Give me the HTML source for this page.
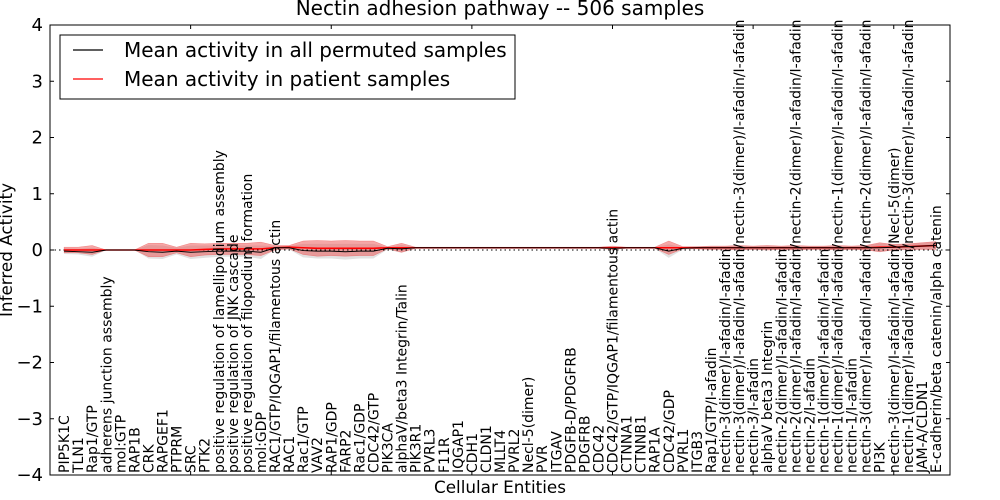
<!DOCTYPE html>
<html><head><meta charset="utf-8"><style>
html,body{margin:0;padding:0;background:#fff;}
svg{display:block;font-family:"DejaVu Sans","Liberation Sans",sans-serif;}
</style></head><body>
<svg id="chart" width="1000" height="500" viewBox="0 0 1000 500" xmlns="http://www.w3.org/2000/svg">
<rect x="0" y="0" width="1000" height="500" fill="#fff"/>
<g id="bands"></g>
<g id="lines"></g>
<g id="labels"></g>
<rect x="50" y="25" width="900" height="450" fill="none" stroke="#000" stroke-width="1"/>
<g id="ticks"></g>
<text x="500" y="15" text-anchor="middle" font-size="20">Nectin adhesion pathway -- 506 samples</text>
<text x="500" y="493" text-anchor="middle" font-size="16.8">Cellular Entities</text>
<text transform="translate(12,250) rotate(-90)" text-anchor="middle" font-size="16.8">Inferred Activity</text>
<g>
<rect x="60" y="35" width="455" height="64" fill="#fff" stroke="#000" stroke-width="1"/>
<line x1="73" y1="50" x2="103" y2="50" stroke="#000" stroke-width="1.2"/>
<text x="124" y="57" font-size="20">Mean activity in all permuted samples</text>
<line x1="73" y1="79" x2="103" y2="79" stroke="#f00" stroke-width="1.2"/>
<text x="124" y="86" font-size="20">Mean activity in patient samples</text>
</g>
</svg>
<script>
const categories = ["PIP5K1C","TLN1","Rap1/GTP","adherens junction assembly","mol:GTP","RAP1B","CRK","RAPGEF1","PTPRM","SRC","PTK2","positive regulation of lamellipodium assembly","positive regulation of JNK cascade","positive regulation of filopodium formation","mol:GDP","RAC1/GTP/IQGAP1/filamentous actin","RAC1","Rac1/GTP","VAV2","RAP1/GDP","FARP2","Rac1/GDP","CDC42/GTP","PIK3CA","alphaV/beta3 Integrin/Talin","PIK3R1","PVRL3","F11R","IQGAP1","CDH1","CLDN1","MLLT4","PVRL2","Necl-5(dimer)","PVR","ITGAV","PDGFB-D/PDGFRB","PDGFRB","CDC42","CDC42/GTP/IQGAP1/filamentous actin","CTNNA1","CTNNB1","RAP1A","CDC42/GDP","PVRL1","ITGB3","Rap1/GTP/I-afadin","nectin-3(dimer)/I-afadin/I-afadin","nectin-3(dimer)/I-afadin/I-afadin/nectin-3(dimer)/I-afadin/I-afadin","nectin-3/I-afadin","alphaV beta3 Integrin","nectin-2(dimer)/I-afadin/I-afadin","nectin-2(dimer)/I-afadin/I-afadin/nectin-2(dimer)/I-afadin/I-afadin","nectin-2/I-afadin","nectin-1(dimer)/I-afadin/I-afadin","nectin-1(dimer)/I-afadin/I-afadin/nectin-1(dimer)/I-afadin/I-afadin","nectin-1/I-afadin","nectin-3(dimer)/I-afadin/I-afadin/nectin-2(dimer)/I-afadin/I-afadin","PI3K","nectin-3(dimer)/I-afadin/I-afadin/Necl-5(dimer)","nectin-1(dimer)/I-afadin/I-afadin/nectin-3(dimer)/I-afadin/I-afadin","JAM-A/CLDN1","E-cadherin/beta catenin/alpha catenin"];
const patientMean = [0,0,0,0,0,0,0,0,0,0,0.01,0.02,0.02,0.02,0.02,0.04,0.05,0.04,0.03,0.03,0.03,0.03,0.03,0.04,0.04,0.04,0.04,0.04,0.04,0.04,0.04,0.04,0.04,0.04,0.04,0.04,0.04,0.04,0.04,0.04,0.04,0.04,0.04,0.04,0.04,0.04,0.04,0.04,0.04,0.04,0.04,0.04,0.04,0.04,0.04,0.04,0.04,0.04,0.05,0.05,0.06,0.07,0.08];
const patientSd = [0.05,0.05,0.08,0,0,0,0.12,0.12,0.05,0.12,0.1,0.1,0.1,0.1,0.12,0.04,0.03,0.12,0.14,0.13,0.14,0.13,0.13,0.02,0.08,0.01,0.01,0.01,0.01,0.01,0.01,0.01,0.01,0.01,0.01,0.01,0.01,0.01,0.01,0.03,0.01,0.01,0.01,0.12,0.02,0.02,0.03,0.03,0.04,0.03,0.04,0.03,0.04,0.03,0.03,0.04,0.03,0.04,0.08,0.05,0.05,0.06,0.07];
const permMean = [-0.02,-0.03,-0.04,0,0,0,-0.03,-0.04,-0.02,-0.04,-0.03,-0.02,-0.02,-0.02,-0.04,0.04,0.04,-0.01,-0.02,-0.02,-0.03,-0.02,-0.02,0.03,0.02,0.04,0.04,0.04,0.04,0.04,0.04,0.04,0.04,0.04,0.04,0.04,0.04,0.04,0.04,0.03,0.04,0.04,0.04,-0.02,0.03,0.04,0.04,0.04,0.04,0.04,0.04,0.04,0.04,0.04,0.04,0.04,0.04,0.04,0.04,0.05,0.06,0.07,0.08];
const permSd = [0.05,0.05,0.08,0,0,0,0.12,0.12,0.06,0.12,0.11,0.1,0.1,0.1,0.12,0.03,0.03,0.12,0.13,0.13,0.14,0.13,0.13,0.02,0.07,0.01,0.01,0.01,0.01,0.01,0.01,0.01,0.01,0.01,0.01,0.01,0.01,0.01,0.01,0.03,0.01,0.01,0.01,0.12,0.02,0.02,0.03,0.03,0.04,0.03,0.04,0.03,0.04,0.03,0.03,0.04,0.03,0.04,0.08,0.05,0.05,0.06,0.07];
const yTicks = [-4,-3,-2,-1,0,1,2,3,4];
const xTicks = [0,10,20,30,40,50,60];

const NS = "http://www.w3.org/2000/svg";
const X0=50, X1=950, Y0=25, Y1=475, XMAX=64, YMIN=-4, YMAX=4;
function sx(i){ return X0 + (i/XMAX)*(X1-X0); }
function sy(v){ return Y1 - (v-YMIN)/(YMAX-YMIN)*(Y1-Y0); }
function mk(tag, attrs, parent){ const e=document.createElementNS(NS,tag); for(const k in attrs) e.setAttribute(k,attrs[k]); parent.appendChild(e); return e; }

const bands=document.getElementById('bands'), lines=document.getElementById('lines'), labels=document.getElementById('labels'), ticks=document.getElementById('ticks');

function bandPath(mean, sd){
  let up=[], dn=[];
  for(let i=0;i<mean.length;i++){ up.push(sx(i+1)+','+sy(mean[i]+sd[i])); dn.unshift(sx(i+1)+','+sy(mean[i]-sd[i])); }
  return 'M'+up.join('L')+'L'+dn.join('L')+'Z';
}
function linePath(mean){ return 'M'+mean.map((v,i)=>sx(i+1)+','+sy(v)).join('L'); }

const gb=mk('path',{d:bandPath(permMean,permSd),fill:'rgba(190,190,190,0.45)',stroke:'none'},bands);


const rb=mk('path',{d:bandPath(patientMean,patientSd),fill:'rgba(235,80,80,0.5)',stroke:'rgba(235,80,80,0.6)','stroke-width':0.5},bands);


const zl=mk('line',{x1:X0,x2:X1,y1:sy(0),y2:sy(0),stroke:'#000','stroke-width':1,'stroke-dasharray':'1.5,3'},lines);


const rl=mk('path',{d:linePath(patientMean),fill:'none',stroke:'#f00','stroke-width':1.6},lines);


const bl=mk('path',{d:linePath(permMean),fill:'none',stroke:'#000','stroke-width':1},lines);



categories.forEach((c,i)=>{
  const x=sx(i+1)+5;
  const t=mk('text',{transform:'translate('+x+',473) rotate(-90)','font-size':14,fill:'#000'},labels);
  t.textContent=c;
  
  
});

yTicks.forEach(v=>{
  const y=sy(v);
  mk('line',{x1:X0,x2:X0+4,y1:y,y2:y,stroke:'#000'},ticks);
  mk('line',{x1:X1-4,x2:X1,y1:y,y2:y,stroke:'#000'},ticks);
  const t=mk('text',{x:X0-7,y:y+6,'text-anchor':'end','font-size':18},ticks);
  t.textContent=(v<0?'\u2212'+(-v):String(v));
  
  
});
xTicks.forEach(v=>{
  const x=sx(v);
  mk('line',{x1:x,x2:x,y1:Y1,y2:Y1-4,stroke:'#000'},ticks);
  mk('line',{x1:x,x2:x,y1:Y0,y2:Y0+4,stroke:'#000'},ticks);
});
</script>
</body></html>
